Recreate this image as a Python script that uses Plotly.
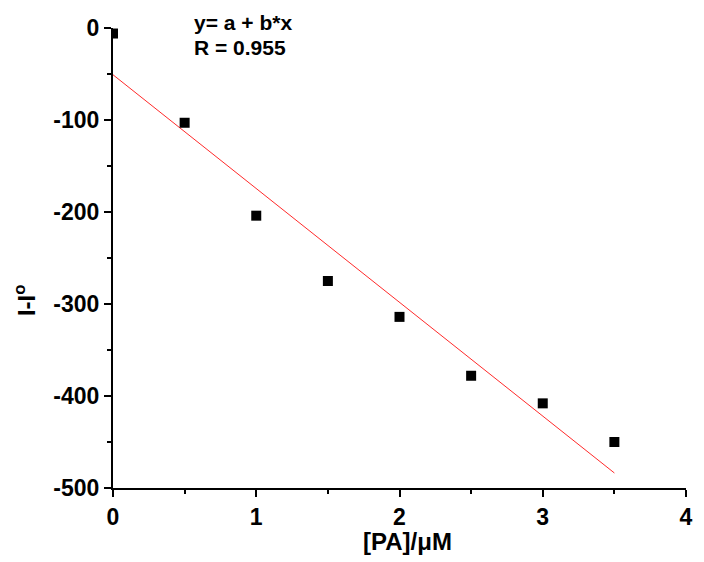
import numpy as np
import plotly.graph_objects as go

conc = [0, 0.5, 1.0, 1.5, 2.0, 2.5, 3.0, 3.5]
delta_i = [-6, -103, -204, -275, -314, -378, -408, -450]

x_ticks = [0, 1, 2, 3, 4]
x_tick_labels = ["0", "1", "2", "3", "4"]
y_ticks = [0, -100, -200, -300, -400, -500]
y_tick_labels = ["0", "-100", "-200", "-300", "-400", "-500"]

b, a = np.polyfit(conc, delta_i, 1)
fit_x = [conc[0], conc[-1]]
fit_y = [a + b * x for x in fit_x]

fig = go.Figure()
fig.add_trace(go.Scatter(x=fit_x, y=fit_y, mode="lines",
                         line=dict(color="#ff2a2a", width=1), showlegend=False))
fig.add_trace(go.Scatter(x=conc, y=delta_i, mode="markers",
                         marker=dict(symbol="square", size=10, color="black"),
                         showlegend=False))

font = dict(family="Liberation Sans, Arial, sans-serif", color="black")
fig.update_layout(
    width=704, height=562,
    margin=dict(l=113, r=11, t=28, b=74),
    paper_bgcolor="white", plot_bgcolor="white",
    font=dict(**font, size=23),
    xaxis=dict(range=[0, 4], tickvals=x_ticks, ticktext=["<b>%s</b>" % t for t in x_tick_labels],
               showline=True, linewidth=2, linecolor="black",
               ticks="outside", ticklen=7, tickwidth=2, tickcolor="black",
               showgrid=False, zeroline=False,
               minor=dict(ticks="outside", ticklen=4, tickwidth=2, dtick=0.5, tickcolor="black"),
               tickfont=dict(size=23)),
    yaxis=dict(range=[-500, 0], tickvals=y_ticks, ticktext=["<b>%s</b>" % t for t in y_tick_labels],
               showline=True, linewidth=2, linecolor="black",
               ticks="outside", ticklen=7, tickwidth=2, tickcolor="black",
               showgrid=False, zeroline=False,
               minor=dict(ticks="outside", ticklen=4, tickwidth=2, dtick=50, tickcolor="black"),
               tickfont=dict(size=23)),
)

# axis titles
fig.add_annotation(xref="paper", yref="paper", x=(411 - 113) / 580, y=-(541 - 488) / 460,
                   xanchor="center", yanchor="middle", showarrow=False,
                   text="<b>[PA]/μM</b>", font=dict(size=24))
fig.add_annotation(xref="paper", yref="paper", x=-(113 - 24) / 580, y=(488 - 300) / 460,
                   xanchor="center", yanchor="middle", showarrow=False, textangle=-90,
                   text="<b>I-I<sup>o</sup></b>", font=dict(size=24))

fig.add_annotation(xref="paper", yref="paper", x=(193 - 113) / 580, y=1 + 6 / 460,
                   xanchor="left", yanchor="middle", showarrow=False, align="left",
                   text="<b>y= a + b*x</b>", font=dict(size=21))
fig.add_annotation(xref="paper", yref="paper", x=(193 - 113) / 580, y=1 - 20 / 460,
                   xanchor="left", yanchor="middle", showarrow=False, align="left",
                   text="<b>R = 0.955</b>", font=dict(size=21))

fig.write_html("out.html")
